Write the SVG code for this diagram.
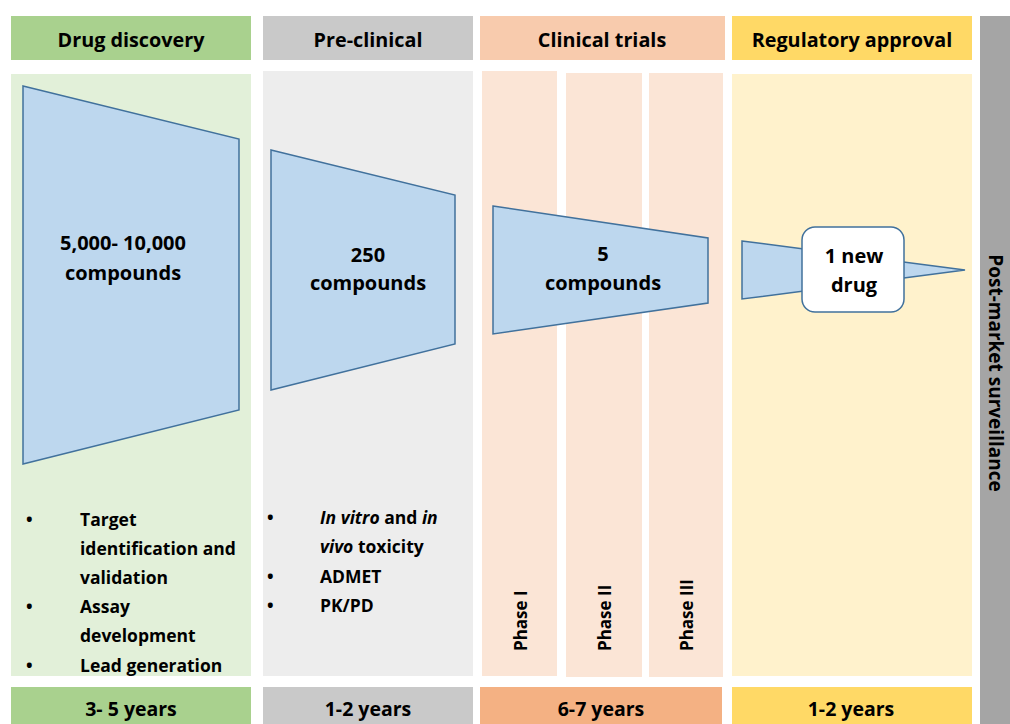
<svg xmlns="http://www.w3.org/2000/svg" width="1010" height="724" viewBox="0 0 1010 724">
<style>
text{font-family:"Open Sans","Liberation Sans",sans-serif;font-weight:700;fill:#000}
.h{font-size:19.8px;text-anchor:middle}
.y{font-size:19.5px;text-anchor:middle}
.c{font-size:20px;text-anchor:middle}
.b{font-size:17.5px}
.p{font-size:17px}
.pm{font-size:19px;text-anchor:middle}
.shape{fill:#bdd7ee;stroke:#41719c;stroke-width:1.5;stroke-linejoin:miter}
</style>
<rect width="1010" height="724" fill="#fff"/>
<g id="columns">
<rect x="11" y="16" width="240" height="44" fill="#a9d18e"/>
<rect x="263" y="16" width="210" height="44" fill="#c9c9c9"/>
<rect x="480" y="16" width="245" height="44" fill="#f8cbad"/>
<rect x="732" y="16" width="240" height="44" fill="#ffd966"/>
<rect x="980" y="16" width="30" height="708" fill="#a5a5a5"/>
<rect x="11" y="74" width="240" height="602" fill="#e2f0d9"/>
<rect x="263" y="71" width="210" height="605" fill="#ededed"/>
<rect x="482" y="71" width="75" height="605" fill="#fbe5d6"/>
<rect x="566" y="73" width="76" height="604" fill="#fbe5d6"/>
<rect x="649" y="73" width="74" height="604" fill="#fbe5d6"/>
<rect x="732" y="74" width="240" height="602" fill="#fff2cc"/>
<rect x="11" y="687" width="240" height="37" fill="#a9d18e"/>
<rect x="263" y="687" width="210" height="37" fill="#c9c9c9"/>
<rect x="480" y="687" width="242" height="37" fill="#f4b183"/>
<rect x="732" y="687" width="240" height="37" fill="#ffd966"/>
</g>
<g id="headers">
<text class="h" x="131" y="47">Drug discovery</text>
<text class="h" x="368" y="47">Pre-clinical</text>
<text class="h" x="602" y="47">Clinical trials</text>
<text class="h" x="852" y="47">Regulatory approval</text>
</g>
<g id="durations">
<text class="y" x="131" y="716">3- 5 years</text>
<text class="y" x="368" y="716">1-2 years</text>
<text class="y" x="601" y="716">6-7 years</text>
<text class="y" x="851" y="716">1-2 years</text>
</g>
<g id="funnel-discovery">
<polygon class="shape" points="23,86 239,139 239,410 23,464"/>
<text class="c" x="123" y="250">5,000- 10,000</text>
<text class="c" x="123" y="280">compounds</text>
</g>
<g id="funnel-preclinical">
<polygon class="shape" points="271,150 455,195 455,344 271,390"/>
<text class="c" x="368" y="262">250</text>
<text class="c" x="368" y="290">compounds</text>
</g>
<g id="funnel-clinical">
<polygon class="shape" points="493,206 708,238 708,303 493,334"/>
<text class="c" x="603" y="261">5</text>
<text class="c" x="603" y="290">compounds</text>
</g>
<g id="funnel-approval">
<polygon class="shape" points="742,241 965,270 742,299"/>
<rect x="802" y="227" width="102" height="85" rx="13" fill="#fff" stroke="#41719c" stroke-width="1.5"/>
<text class="c" x="854" y="263">1 new</text>
<text class="c" x="854" y="292">drug</text>
</g>
<g id="discovery-list">
<text class="b" x="26" y="526">•</text><text class="b" x="80" y="526">Target</text>
<text class="b" x="80" y="555">identification and</text>
<text class="b" x="80" y="584">validation</text>
<text class="b" x="26" y="613">•</text><text class="b" x="80" y="613">Assay</text>
<text class="b" x="80" y="642">development</text>
<text class="b" x="26" y="672">•</text><text class="b" x="80" y="672">Lead generation</text>
</g>
<g id="preclinical-list">
<text class="b" x="267" y="524">•</text><text class="b" x="320" y="524"><tspan font-style="italic">In vitro</tspan> and <tspan font-style="italic">in</tspan></text>
<text class="b" x="320" y="553"><tspan font-style="italic">vivo</tspan> toxicity</text>
<text class="b" x="267" y="583">•</text><text class="b" x="320" y="583">ADMET</text>
<text class="b" x="267" y="612">•</text><text class="b" x="320" y="612">PK/PD</text>
</g>
<g id="phases">
<text class="p" transform="translate(527,651) rotate(-90)">Phase I</text>
<text class="p" transform="translate(611,651) rotate(-90)">Phase II</text>
<text class="p" transform="translate(693,651) rotate(-90)">Phase III</text>
</g>
<g id="post-market">
<text class="pm" transform="translate(989,373) rotate(90)">Post-market surveillance</text>
</g>
<g id="connectors"></g>
</svg>
